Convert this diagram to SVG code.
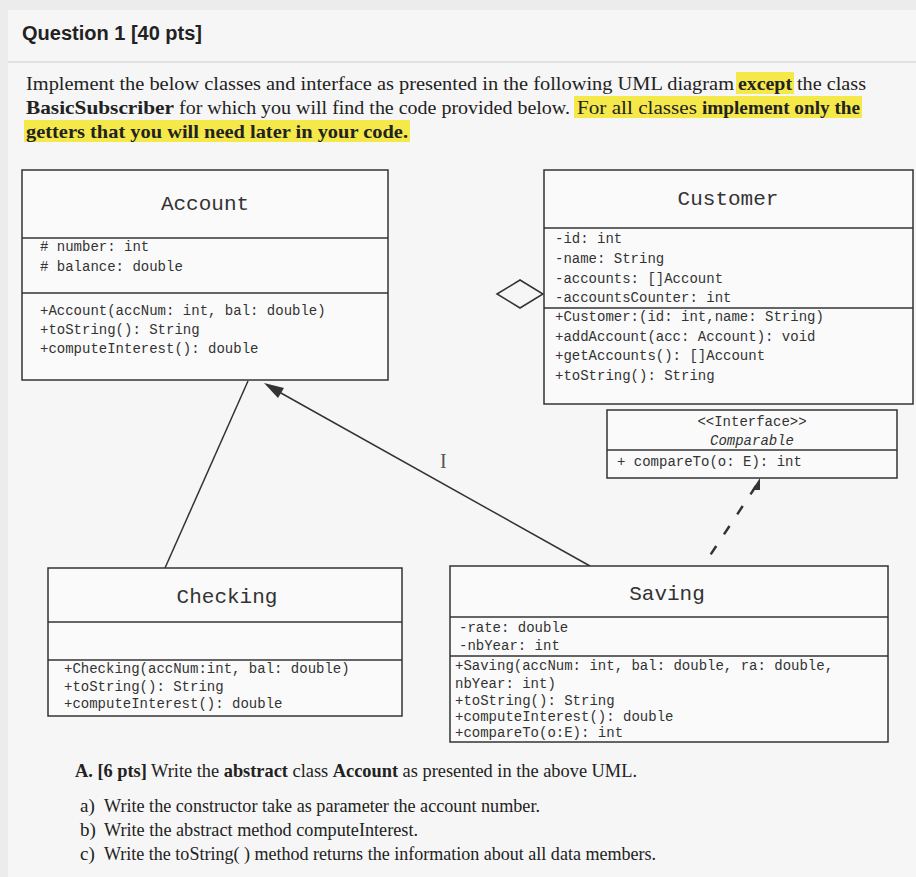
<svg xmlns="http://www.w3.org/2000/svg" width="916" height="877" viewBox="0 0 916 877">
<style>
.bx{fill:#fafafa;stroke:#333;stroke-width:1.5}
.ln{stroke:#333;stroke-width:1.5;fill:none}
.m{font-family:"Liberation Mono",monospace;font-size:14px;fill:#333}
.t{font-family:"Liberation Mono",monospace;font-size:21px;fill:#333}
.s{font-family:"Liberation Serif",serif;font-size:19px;fill:#222}
.b{font-weight:bold}
.h{fill:#f5e94a}
</style>
<rect width="916" height="877" fill="#ececec"/>
<rect x="8" y="10" width="908" height="867" fill="#f6f6f6"/>
<line x1="8" y1="62" x2="916" y2="62" stroke="#ccc"/>
<text x="22" y="40" font-family="Liberation Sans,sans-serif" font-weight="bold" font-size="20" fill="#222">Question 1 [40 pts]</text>
<rect class="h" x="736" y="72" width="58" height="22"/>
<rect class="h" x="574" y="96" width="288" height="22"/>
<rect class="h" x="24" y="120" width="386" height="22"/>
<text class="s" x="26" y="90" textLength="708" lengthAdjust="spacingAndGlyphs">Implement the below classes and interface as presented in the following UML diagram</text>
<text class="s b" x="738" y="90" textLength="54" lengthAdjust="spacingAndGlyphs">except</text>
<text class="s" x="797" y="90" textLength="69" lengthAdjust="spacingAndGlyphs">the class</text>
<text class="s b" x="26" y="114" textLength="148" lengthAdjust="spacingAndGlyphs">BasicSubscriber</text>
<text class="s" x="179" y="114" textLength="391" lengthAdjust="spacingAndGlyphs">for which you will find the code provided below.</text>
<text class="s" x="577" y="114" textLength="120" lengthAdjust="spacingAndGlyphs">For all classes</text>
<text class="s b" x="702" y="114" textLength="158" lengthAdjust="spacingAndGlyphs">implement only the</text>
<text class="s b" x="26" y="138" textLength="382" lengthAdjust="spacingAndGlyphs">getters that you will need later in your code.</text>
<g id="connectors">
<line class="ln" x1="165" y1="568" x2="248" y2="381"/>
<line class="ln" x1="590" y1="566" x2="272" y2="388"/>
<polygon points="264,383 284,388 278,398" fill="#333"/>
<polygon class="ln" points="497,294 520,280 543,294 520,308" fill="#fafafa"/>
<line x1="756" y1="486" x2="705" y2="563" stroke="#333" stroke-width="2.5" stroke-dasharray="10,14"/>
<polygon points="760,478 752,490 760,490" fill="#333"/>
</g>
<g id="account">
<rect class="bx" x="22" y="170" width="366" height="210"/>
<line class="ln" x1="22" y1="238" x2="388" y2="238"/><line class="ln" x1="22" y1="293" x2="388" y2="293"/>
<text class="t" x="205" y="210" text-anchor="middle">Account</text>
<text class="m" x="40" y="251"># number: int</text>
<text class="m" x="40" y="271"># balance: double</text>
<text class="m" x="40" y="315">+Account(accNum: int, bal: double)</text>
<text class="m" x="40" y="334">+toString(): String</text>
<text class="m" x="40" y="353">+computeInterest(): double</text>
</g>
<g id="customer">
<rect class="bx" x="544" y="170" width="369" height="234"/>
<line class="ln" x1="544" y1="228" x2="913" y2="228"/><line class="ln" x1="544" y1="308" x2="913" y2="308"/>
<text class="t" x="728" y="205" text-anchor="middle">Customer</text>
<text class="m" x="555" y="243">-id: int</text>
<text class="m" x="555" y="263">-name: String</text>
<text class="m" x="555" y="283">-accounts: []Account</text>
<text class="m" x="555" y="302">-accountsCounter: int</text>
<text class="m" x="555" y="321">+Customer:(id: int,name: String)</text>
<text class="m" x="555" y="341">+addAccount(acc: Account): void</text>
<text class="m" x="555" y="360">+getAccounts(): []Account</text>
<text class="m" x="555" y="380">+toString(): String</text>
</g>
<g id="comparable">
<rect class="bx" x="607" y="410" width="290" height="68"/>
<line class="ln" x1="607" y1="450" x2="897" y2="450"/>
<text class="m" x="752" y="426" text-anchor="middle">&lt;&lt;Interface&gt;&gt;</text>
<text class="m" x="752" y="445" text-anchor="middle" font-style="italic">Comparable</text>
<text class="m" x="617" y="466">+ compareTo(o: E): int</text>
</g>
<text x="440" y="468" font-family="Liberation Serif,serif" font-size="20" fill="#555">I</text>
<g id="checking">
<rect class="bx" x="48" y="568" width="354" height="148"/>
<line class="ln" x1="48" y1="622" x2="402" y2="622"/><line class="ln" x1="48" y1="660" x2="402" y2="660"/>
<text class="t" x="227" y="603" text-anchor="middle">Checking</text>
<text class="m" x="64" y="673">+Checking(accNum:int, bal: double)</text>
<text class="m" x="64" y="691">+toString(): String</text>
<text class="m" x="64" y="708">+computeInterest(): double</text>
</g>
<g id="saving">
<rect class="bx" x="450" y="566" width="438" height="176"/>
<line class="ln" x1="450" y1="617" x2="888" y2="617"/><line class="ln" x1="450" y1="656" x2="888" y2="656"/>
<text class="t" x="667" y="600" text-anchor="middle">Saving</text>
<text class="m" x="459" y="632">-rate: double</text>
<text class="m" x="459" y="650">-nbYear: int</text>
<text class="m" x="455" y="670">+Saving(accNum: int, bal: double, ra: double,</text>
<text class="m" x="455" y="688">nbYear: int)</text>
<text class="m" x="455" y="705">+toString(): String</text>
<text class="m" x="455" y="721">+computeInterest(): double</text>
<text class="m" x="455" y="737">+compareTo(o:E): int</text>
</g>
<text class="s" x="75" y="777" font-size="17" textLength="562" lengthAdjust="spacingAndGlyphs"><tspan font-weight="bold">A. [6 pts]</tspan> Write the <tspan font-weight="bold">abstract</tspan> class <tspan font-weight="bold">Account</tspan> as presented in the above UML.</text>
<text class="s" x="80" y="812" font-size="15">a)</text>
<text class="s" x="104" y="812" font-size="15" textLength="436" lengthAdjust="spacingAndGlyphs">Write the constructor take as parameter the account number.</text>
<text class="s" x="80" y="836" font-size="15">b)</text>
<text class="s" x="104" y="836" font-size="15" textLength="314" lengthAdjust="spacingAndGlyphs">Write the abstract method computeInterest.</text>
<text class="s" x="80" y="860" font-size="15">c)</text>
<text class="s" x="104" y="860" font-size="15" textLength="552" lengthAdjust="spacingAndGlyphs">Write the toString( ) method returns the information about all data members.</text>
</svg>
